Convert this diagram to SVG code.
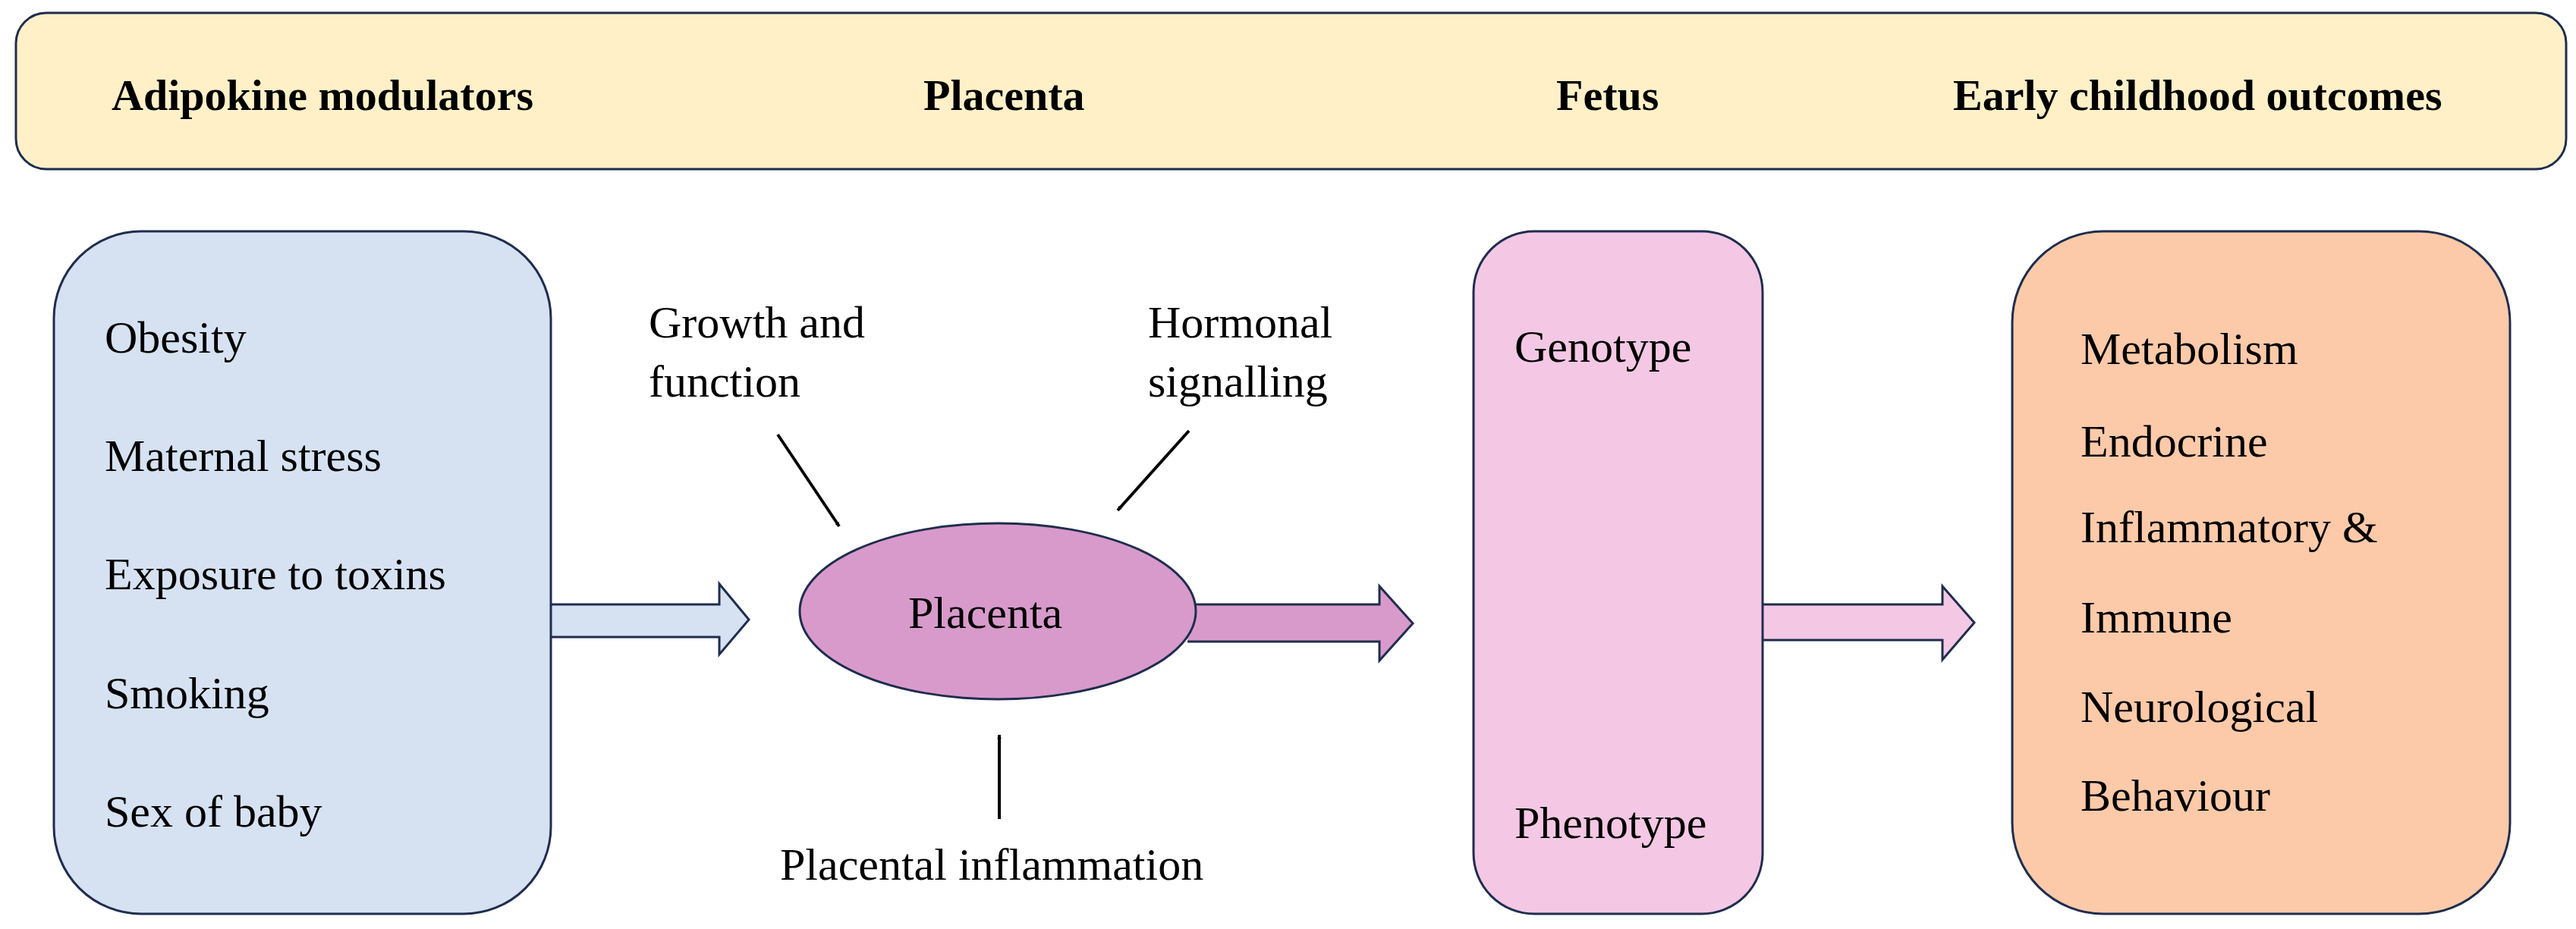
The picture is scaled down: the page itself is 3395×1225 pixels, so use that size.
<svg xmlns="http://www.w3.org/2000/svg" width="3395" height="1225" viewBox="0 0 3395 1225">
<style>
.b{stroke:#1f2d4e;stroke-width:3}
.h{font-family:"Liberation Serif",serif;font-weight:bold;font-size:58px;fill:#000}
.t{font-family:"Liberation Serif",serif;font-size:60px;fill:#000}
.k{stroke:#000;stroke-width:4;fill:none}
</style>
<defs><marker id="ah" viewBox="0 0 10 10" refX="9" refY="5" markerWidth="6" markerHeight="6" markerUnits="userSpaceOnUse" orient="auto"><path d="M0,0 L10,5 L0,10 z" fill="#000"/></marker>
<marker id="ap" viewBox="0 0 10 10" refX="9" refY="5" markerWidth="5" markerHeight="5" orient="auto"><path d="M0,0 L10,5 L0,10 z" fill="#7b2fa0"/></marker></defs>
<rect width="3395" height="1225" fill="#fff"/>
<g id="banner"><rect class="b" x="21" y="17" width="3361" height="206" rx="40" fill="#fff0c8"/>
<text class="h" x="147" y="145">Adipokine modulators</text>
<text class="h" x="1217" y="145">Placenta</text>
<text class="h" x="2051" y="145">Fetus</text>
<text class="h" x="2574" y="145">Early childhood outcomes</text></g>
<g id="connectors">
<path class="b" d="M726,797 H948 V770 L987,817 L948,863 V840 H726" fill="#d6e2f2"/>
<path class="b" d="M1565,797 H1818 V773 L1862,822 L1818,871 V846 H1565" fill="#d89acb"/>
<path class="b" d="M2323,797 H2560 V773 L2602,821 L2560,870 V844 H2323" fill="#f4c8e4"/>
<line class="k" x1="1025" y1="573" x2="1106" y2="694" marker-end="url(#ah)"/>
<line class="k" x1="1567" y1="568" x2="1473" y2="673" marker-end="url(#ah)"/>
<line class="k" x1="1317" y1="1080" x2="1317" y2="969" marker-end="url(#ah)"/>
<line x1="2136" y1="520" x2="2136" y2="1022" stroke="#7b2fa0" stroke-width="6" marker-end="url(#ap)"/>
</g>
<g id="modulators"><rect class="b" x="71" y="305" width="655" height="900" rx="115" fill="#d6e2f2"/>
<text class="t" x="138" y="465">Obesity</text>
<text class="t" x="138" y="621">Maternal stress</text>
<text class="t" x="138" y="777">Exposure to toxins</text>
<text class="t" x="138" y="934">Smoking</text>
<text class="t" x="138" y="1090">Sex of baby</text></g>
<g id="placenta"><ellipse class="b" cx="1315" cy="806" rx="261" ry="116" fill="#d89acb"/>
<text class="t" x="1197" y="828">Placenta</text></g>
<g id="growth"><text class="t" x="855" y="445">Growth and</text><text class="t" x="855" y="523">function</text></g>
<g id="hormonal"><text class="t" x="1513" y="445">Hormonal</text><text class="t" x="1513" y="523">signalling</text></g>
<g id="inflammation"><text class="t" x="1028" y="1160">Placental inflammation</text></g>
<g id="fetus"><rect class="b" x="1942" y="305" width="381" height="900" rx="80" fill="#f4c8e4"/>
<text class="t" x="1996" y="477">Genotype</text>
<text class="t" x="1996" y="1105">Phenotype</text></g>
<g id="outcomes"><rect class="b" x="2652" y="305" width="656" height="900" rx="120" fill="#fdcaa9"/>
<text class="t" x="2742" y="480">Metabolism</text>
<text class="t" x="2742" y="602">Endocrine</text>
<text class="t" x="2742" y="715">Inflammatory &amp;</text>
<text class="t" x="2742" y="834">Immune</text>
<text class="t" x="2742" y="952">Neurological</text>
<text class="t" x="2742" y="1069">Behaviour</text></g>
</svg>
